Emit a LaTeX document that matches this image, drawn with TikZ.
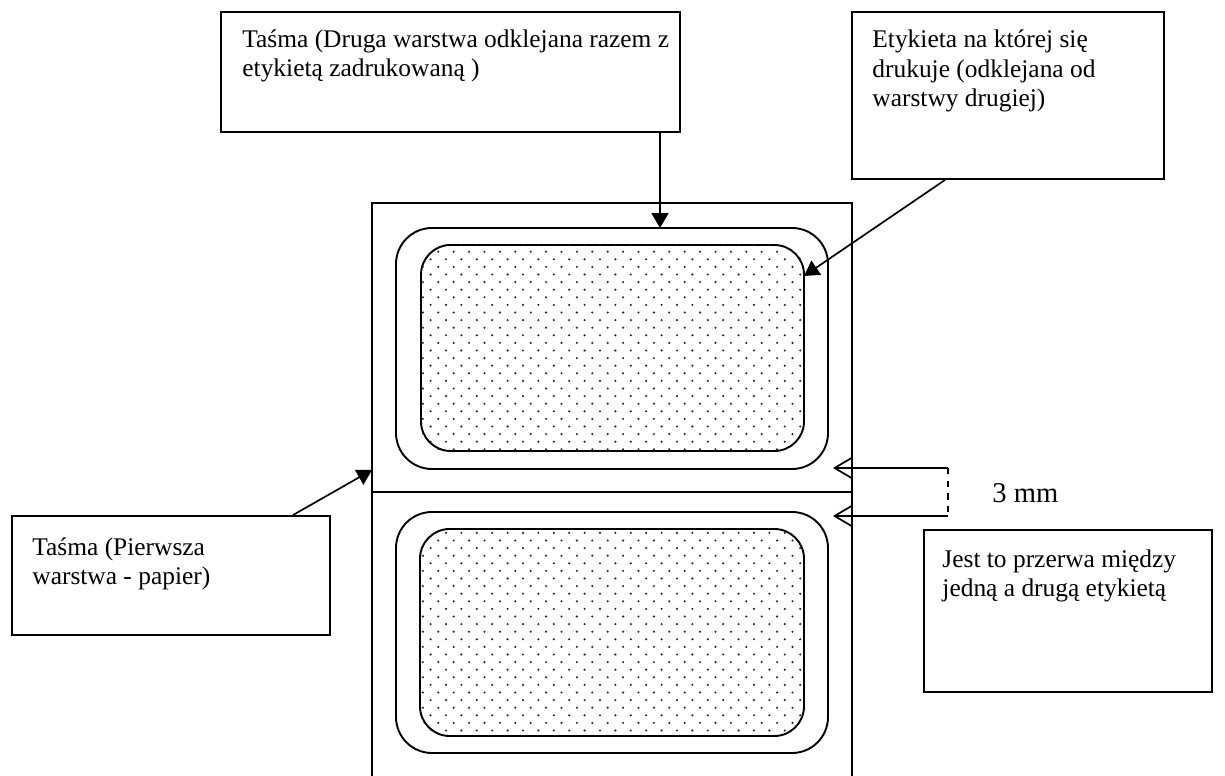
\documentclass[tikz,border=0pt]{standalone}
\usepackage{fontspec}
\setmainfont{Liberation Serif}
\usetikzlibrary{arrows.meta,fit}

\tikzset{
	callout/.style={draw=black, line width=0.9pt, inner sep=0pt},
	callouttext/.style={anchor=base west, align=left, inner sep=0pt, font=\fontsize{12}{14.1}\selectfont},
	outerpanel/.style={draw=black, line width=0.9pt, inner sep=0pt, rounded corners=17pt},
	innerpanel/.style={draw=black, line width=0.9pt, inner sep=0pt, rounded corners=14pt},
	pointer/.style={line width=0.8pt, -{Triangle[length=7pt,width=8pt]}},
	gapmark/.style={line width=0.8pt, -{Straight Barb[length=8pt,width=9.5pt]}},
}

\begin{document}
\begin{tikzpicture}[x=0.472pt, y=-0.472pt]
	\useasboundingbox (0,0) rectangle (1225,776);

	% strip
	\draw[line width=0.9pt] (372,776) -- (372,203) -- (852,203) -- (852,776);
	\draw[line width=0.9pt] (372,492) -- (852,492);

	\node[outerpanel, fit={(396,228) (828,469)}] (outer1) {};
	\node[innerpanel, fit={(421,245) (804,451)}] (inner1) {};
	\node[outerpanel, fit={(396,512) (828,753)}] (outer2) {};
	\node[innerpanel, fit={(420,529) (804,736)}] (inner2) {};

	% dots on the labels
	\begin{scope}
		\clip[rounded corners=14pt] (inner1.south west) rectangle (inner1.north east)
			(inner2.south west) rectangle (inner2.north east);
		\foreach \r in {0,...,65} {
			\foreach \c in {0,...,25} {
				\fill[black!85] ({422.9+15.4*\c+7.7*mod(\r+1,2)}, {244.1+7.6*\r}) circle (0.55pt);
			}
		}
	\end{scope}

	% text anchored at the baseline of its last line
	\node[callout, fit={(221,12) (680,132)}] (tape1) {};
	\node[callouttext] (tape1txt) at (242,77) {Taśma (Druga warstwa odklejana razem z\\etykietą zadrukowaną )};

	\node[callout, fit={(852,12) (1164,179)}] (label1) {};
	\node[callouttext] (label1txt) at (872,107) {Etykieta na której się\\drukuje (odklejana od\\warstwy drugiej)};

	\node[callout, fit={(12,516) (330,635)}] (tape2) {};
	\node[callouttext] (tape2txt) at (32,585) {Taśma (Pierwsza\\warstwa - papier)};

	\node[callout, fit={(924,530) (1212,692)}] (gap) {};
	\node[callouttext] (gaptxt) at (942,597) {Jest to przerwa między\\jedną a drugą etykietą};

	\node[anchor=base west, inner sep=0pt, font=\fontsize{13.5}{16}\selectfont] (mm) at (992,503) {3 mm};

	\coordinate (tip1) at (660,228);
	\coordinate (tail2) at (945,179);
	\coordinate (tip2) at (804,276);
	\coordinate (tail3) at (293,516);
	\coordinate (tip3) at (372,470);
	\coordinate (gapup) at (948,468);
	\coordinate (gapdown) at (948,516);

	\path[pointer] (tape1.south -| tip1) edge (tip1);
	\path[pointer] (label1.south -| tail2) edge (tip2);
	\path[pointer] (tape2.north -| tail3) edge (tip3);

	\draw[gapmark] (gapup) -- (833,468);
	\draw[gapmark] (gapdown) -- (833,516);
	\draw[line width=0.8pt, dashed] (gapup) -- (gapdown);

\end{tikzpicture}
\end{document}
